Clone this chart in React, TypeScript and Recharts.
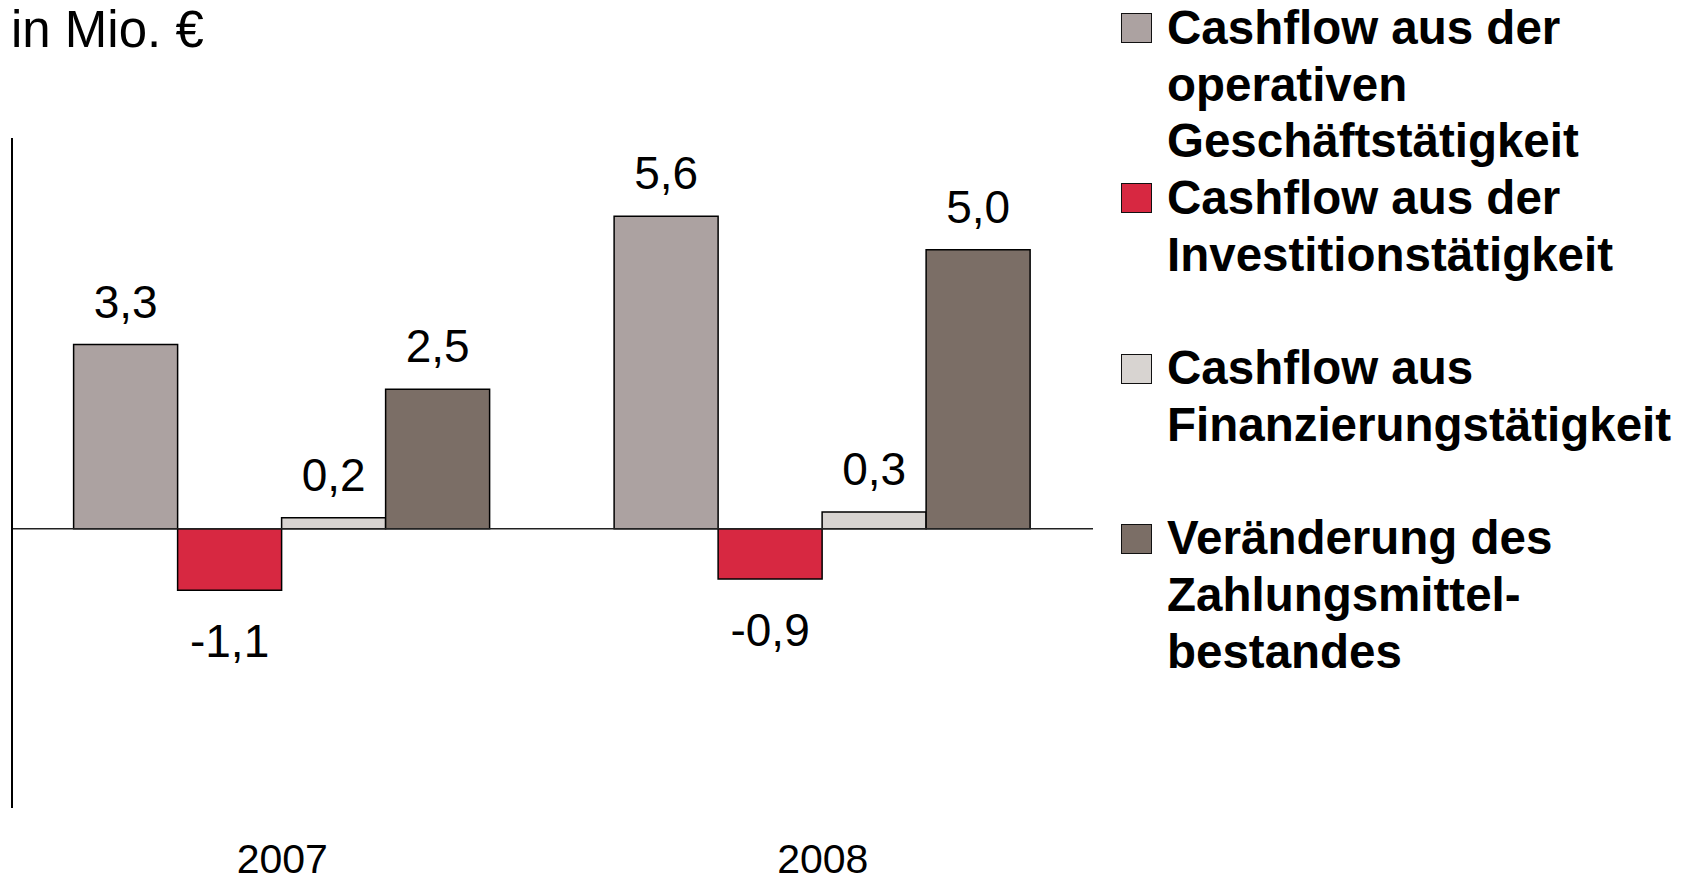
import React from 'react';
import { BarChart, Bar, XAxis, YAxis, ReferenceLine, LabelList, Legend, Label } from 'recharts';

const years = ['2007', '2008'];
const operativ = [3.3, 5.6];
const investition = [-1.1, -0.9];
const finanzierung = [0.2, 0.3];
const veraenderung = [2.5, 5.0];

const seriesKeys = ['operativ', 'investition', 'finanzierung', 'veraenderung'];
const seriesColors = ['#ACA2A1', '#D72841', '#D8D4D1', '#7B6E66'];
const legendLines = [
  ['Cashflow aus der', 'operativen', 'Geschäftstätigkeit'],
  ['Cashflow aus der', 'Investitionstätigkeit'],
  ['Cashflow aus', 'Finanzierungstätigkeit'],
  ['Veränderung des', 'Zahlungsmittel-', 'bestandes'],
];
const yDomain = [-5, 7];
const unitLabel = 'in Mio. €';

const data = years.map((year, i) => ({
  year,
  operativ: operativ[i],
  investition: investition[i],
  finanzierung: finanzierung[i],
  veraenderung: veraenderung[i],
}));

const FONT = '"Liberation Sans", Arial, Helvetica, sans-serif';

const fmt = (v: number) => v.toFixed(1).replace('.', ',');

const ValueLabel = (props: any) => {
  const { x, y, width, height, value } = props;
  if (value == null) return null;
  const top = Math.min(y, y + height);
  const bottom = Math.max(y, y + height);
  const cx = x + width / 2;
  const cy = value >= 0 ? top - 43 : bottom + 51;
  return (
    <text x={cx} y={cy} textAnchor="middle" dominantBaseline="central" fontFamily={FONT} fontSize={46} fill="#000">
      {fmt(value)}
    </text>
  );
};

const YearTick = (props: any) => {
  const { x, payload } = props;
  return (
    <text x={x} y={873} textAnchor="middle" fontFamily={FONT} fontSize={41} fill="#000">
      {payload.value}
    </text>
  );
};

const UnitLabel = () => (
  <text x={11} y={46.5} fontFamily={FONT} fontSize={51} fill="#000">
    {unitLabel}
  </text>
);

const LINE_H = 56.7;
const LEGEND_W = 570;

const LegendContent = () => (
  <div style={{ fontFamily: FONT, fontWeight: 'bold', fontSize: 47.5, lineHeight: `${LINE_H}px`, color: '#000', textAlign: 'left', width: LEGEND_W }}>
    {legendLines.map((lines, i) => (
      <div key={i} style={{ display: 'flex', alignItems: 'flex-start', marginBottom: lines.length === 2 ? LINE_H : 0 }}>
        <div
          style={{
            width: 29,
            height: 28,
            marginTop: LINE_H / 2 - 15,
            marginRight: 15,
            background: seriesColors[i],
            border: '1.5px solid #111',
            flex: 'none',
          }}
        />
        <div>
          {lines.map((l, j) => (
            <div key={j} style={{ whiteSpace: 'nowrap' }}>{l}</div>
          ))}
        </div>
      </div>
    ))}
  </div>
);

export default function App() {
  return (
    <div style={{ position: 'absolute', left: 0, top: 0, width: 1691, height: 883, background: '#fff' }}>
      <BarChart
        width={1691}
        height={883}
        data={data}
        margin={{ top: 138, right: 598 - LEGEND_W, bottom: 0, left: 0 }}
        barCategoryGap="11.4%"
        barGap={0}
      >
        <XAxis dataKey="year" height={75} axisLine={false} tickLine={false} tick={<YearTick />} interval={0} />
        <YAxis
          domain={yDomain}
          width={12}
          tick={false}
          tickLine={false}
          axisLine={{ stroke: '#000', strokeWidth: 2 }}
          allowDataOverflow
        >
          <Label content={<UnitLabel />} />
        </YAxis>
        {seriesKeys.map((k, i) => (
          <Bar key={k} dataKey={k} fill={seriesColors[i]} stroke="#000" strokeWidth={1.5} isAnimationActive={false}>
            <LabelList dataKey={k} content={<ValueLabel />} />
          </Bar>
        ))}
        <ReferenceLine y={0} stroke="#222" strokeWidth={1.5} />
        <Legend
          layout="vertical"
          align="right"
          verticalAlign="top"
          content={<LegendContent />}
          wrapperStyle={{ left: 1121, top: 0, width: LEGEND_W }}
        />
      </BarChart>
    </div>
  );
}
